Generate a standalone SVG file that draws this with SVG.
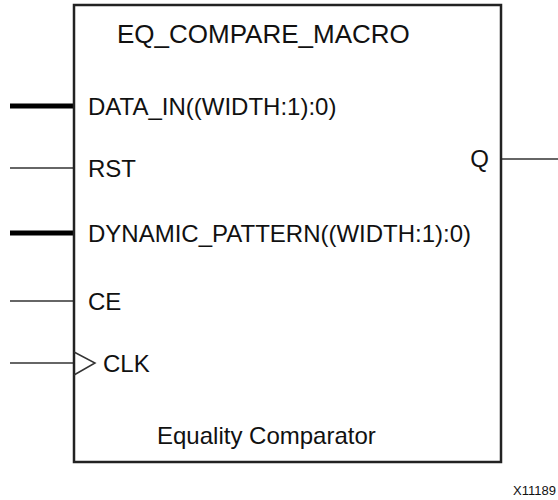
<svg xmlns="http://www.w3.org/2000/svg" width="558" height="500" viewBox="0 0 558 500">
  <style>
    .lbl { font-family: "Liberation Sans", Arial, sans-serif; font-size: 24px; fill: #111; }
    .title { font-family: "Liberation Sans", Arial, sans-serif; font-size: 26px; fill: #111; }
    .thin { stroke: #333; stroke-width: 1.5; fill: none; }
    .bus { stroke: #000; stroke-width: 5; fill: none; }
    .box { stroke: #222; stroke-width: 2.5; fill: #fff; }
    .fig { font-family: "Liberation Sans", Arial, sans-serif; font-size: 13px; fill: #111; }
  </style>
  <rect width="558" height="500" fill="#fff"/>
  <g id="connectors">
    <line class="bus" x1="10" y1="106" x2="74" y2="106"/>
    <line class="thin" x1="10" y1="168" x2="74" y2="168"/>
    <line class="bus" x1="10" y1="233" x2="74" y2="233"/>
    <line class="thin" x1="10" y1="301" x2="74" y2="301"/>
    <line class="thin" x1="10" y1="363" x2="74" y2="363"/>
    <line class="thin" x1="501" y1="159" x2="558" y2="159"/>
  </g>
  <g id="eq_compare_macro">
    <rect class="box" x="74" y="5" width="427" height="457"/>
    <text class="title" x="117" y="43">EQ_COMPARE_MACRO</text>
    <text class="lbl" x="88" y="115">DATA_IN((WIDTH:1):0)</text>
    <text class="lbl" x="88" y="177">RST</text>
    <text class="lbl" x="88" y="242">DYNAMIC_PATTERN((WIDTH:1):0)</text>
    <text class="lbl" x="88" y="310">CE</text>
    <polyline class="thin" points="74,352 95,363 74,375"/>
    <text class="lbl" x="103" y="372">CLK</text>
    <text class="lbl" x="489" y="167" text-anchor="end">Q</text>
    <text class="lbl" x="157" y="444">Equality Comparator</text>
  </g>
  <text class="fig" x="556" y="495" text-anchor="end">X11189</text>
</svg>
